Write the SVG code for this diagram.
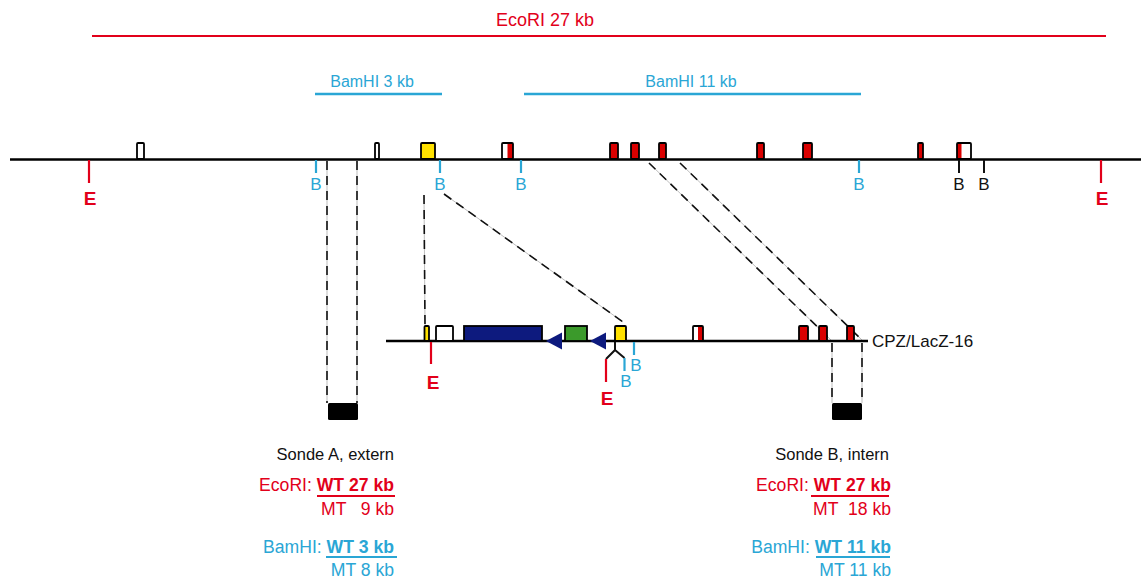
<svg xmlns="http://www.w3.org/2000/svg" width="1141" height="581" viewBox="0 0 1141 581">
  <style>
    text { font-family: "Liberation Sans", Arial, sans-serif; }
    .red { fill: #e2001a; }
    .cyan { fill: #2aa6d5; }
    .blk { fill: #111; }
    .site { font-size: 17px; text-anchor: middle; }
    .esite { font-size: 19px; font-weight: bold; text-anchor: middle; fill: #e2001a; }
    .lbl { font-size: 16.5px; }
    .band { font-size: 17.6px; }
    .backbone { stroke: #000; stroke-width: 2.5; fill: none; }
    .exon { stroke: #000; stroke-width: 1.8; }
    .tickR { stroke: #e2001a; stroke-width: 2.2; }
    .tickC { stroke: #2aa6d5; stroke-width: 2.2; }
    .tickK { stroke: #111; stroke-width: 2; }
    .guide { stroke: #bdbdbd; stroke-width: 1; fill: none; }
    .dash { stroke: #111; stroke-width: 1.6; stroke-dasharray: 9 6; fill: none; }
    .white { fill: #fff; }
    .redfill { fill: #d90000; }
    .yellow { fill: #ffe100; }
  </style>

  <!-- restriction fragment scale bars -->
  <g id="fragments">
    <line x1="92" y1="36" x2="1106" y2="36" stroke="#e2001a" stroke-width="2.2"/>
    <text class="red" x="545" y="26" font-size="18" text-anchor="middle">EcoRI 27 kb</text>
    <line x1="315" y1="94" x2="442" y2="94" stroke="#2aa6d5" stroke-width="2.5"/>
    <text class="cyan" x="372" y="87" font-size="16" text-anchor="middle">BamHI 3 kb</text>
    <line x1="524" y1="94" x2="861" y2="94" stroke="#2aa6d5" stroke-width="2.5"/>
    <text class="cyan" x="691" y="87" font-size="16" text-anchor="middle">BamHI 11 kb</text>
  </g>

  <!-- connectors: dashed homology / probe guides -->
  <g id="connectors">
    <!-- probe A -->
    <line class="guide" x1="327" y1="161" x2="327" y2="403"/>
    <line class="dash" x1="327" y1="161" x2="327" y2="403"/>
    <line class="guide" x1="357" y1="161" x2="357" y2="403"/>
    <line class="dash" x1="357" y1="161" x2="357" y2="403"/>
    <!-- 5' arm -->
    <line class="guide" x1="424" y1="195" x2="425" y2="325"/>
    <line class="dash" x1="424" y1="195" x2="425" y2="325"/>
    <line class="guide" x1="444" y1="194" x2="623" y2="322"/>
    <line class="dash" x1="444" y1="194" x2="623" y2="322"/>
    <!-- 3' arm -->
    <line class="guide" x1="649" y1="163" x2="832" y2="341"/>
    <line class="dash" x1="649" y1="163" x2="832" y2="341"/>
    <line class="guide" x1="680" y1="163" x2="863" y2="341"/>
    <line class="dash" x1="680" y1="163" x2="863" y2="341"/>
    <!-- probe B -->
    <line class="guide" x1="832" y1="343" x2="832" y2="403"/>
    <line class="dash" x1="832" y1="343" x2="832" y2="403"/>
    <line class="guide" x1="862" y1="343" x2="862" y2="403"/>
    <line class="dash" x1="862" y1="343" x2="862" y2="403"/>
  </g>

  <!-- wild-type locus -->
  <g id="wt-locus">
    <line class="backbone" x1="10" y1="159.5" x2="1141" y2="159.5"/>
    <rect class="exon white" x="137" y="143" width="7" height="16" rx="1"/>
    <rect class="exon white" x="375" y="143" width="4" height="16" rx="1"/>
    <rect class="exon yellow" x="421" y="143" width="14" height="16" rx="1"/>
    <rect class="white" x="502" y="143" width="11" height="16"/>
    <rect class="redfill" x="507.5" y="143" width="5.5" height="16"/>
    <rect class="exon" fill="none" x="502" y="143" width="11" height="16" rx="1"/>
    <rect class="exon redfill" x="610" y="143" width="8" height="16" rx="1"/>
    <rect class="exon redfill" x="631" y="143" width="8" height="16" rx="1"/>
    <rect class="exon redfill" x="659" y="143" width="7" height="16" rx="1"/>
    <rect class="exon redfill" x="757" y="143" width="7" height="16" rx="1"/>
    <rect class="exon redfill" x="803" y="143" width="9" height="16" rx="1"/>
    <rect class="exon redfill" x="918" y="143" width="5" height="16" rx="1"/>
    <rect class="white" x="957" y="143" width="14" height="16"/>
    <rect class="redfill" x="957" y="143" width="4.5" height="16"/>
    <rect class="exon" fill="none" x="957" y="143" width="14" height="16" rx="1"/>
  </g>

  <!-- wild-type restriction sites -->
  <g id="wt-sites">
    <line class="tickR" x1="89" y1="160" x2="89" y2="183"/>
    <text class="esite" x="90" y="205">E</text>
    <line class="tickR" x1="1101" y1="160" x2="1101" y2="183"/>
    <text class="esite" x="1102" y="205">E</text>
    <line class="tickC" x1="316" y1="160" x2="316" y2="173"/>
    <text class="site cyan" x="316" y="190">B</text>
    <line class="tickC" x1="440" y1="160" x2="440" y2="173"/>
    <text class="site cyan" x="440" y="190">B</text>
    <line class="tickC" x1="521" y1="160" x2="521" y2="173"/>
    <text class="site cyan" x="521" y="190">B</text>
    <line class="tickC" x1="859" y1="160" x2="859" y2="173"/>
    <text class="site cyan" x="859" y="190">B</text>
    <line class="tickK" x1="959" y1="160" x2="959" y2="173"/>
    <text class="site blk" x="959" y="190">B</text>
    <line class="tickK" x1="984" y1="160" x2="984" y2="173"/>
    <text class="site blk" x="984" y="190">B</text>
  </g>

  <!-- targeted allele CPZ/LacZ-16 -->
  <g id="cpz-allele">
    <line class="backbone" x1="386" y1="341" x2="868" y2="341"/>
    <rect class="exon yellow" x="424.5" y="326" width="4.5" height="15" rx="1"/>
    <rect class="exon white" x="436" y="326" width="17" height="15" rx="1"/>
    <rect class="exon" fill="#0d1a7e" x="464" y="326" width="78" height="15"/>
    <polygon points="546,341 562,332.5 562,349.5" fill="#0d1a7e"/>
    <rect class="exon" fill="#3b9a2b" x="565" y="326" width="22" height="15"/>
    <polygon points="590,341 606,332.5 606,349.5" fill="#0d1a7e"/>
    <rect class="exon yellow" x="615" y="326" width="11" height="15" rx="1"/>
    <rect class="white" x="693" y="326" width="10" height="15"/>
    <rect class="redfill" x="698" y="326" width="5" height="15"/>
    <rect class="exon" fill="none" x="693" y="326" width="10" height="15" rx="1"/>
    <rect class="exon redfill" x="799" y="326" width="9" height="15" rx="1"/>
    <rect class="exon redfill" x="819" y="326" width="8" height="15" rx="1"/>
    <rect class="exon redfill" x="847" y="326" width="7" height="15" rx="1"/>
    <text class="blk" x="872" y="347" font-size="17">CPZ/LacZ-16</text>
  </g>

  <!-- targeted allele restriction sites -->
  <g id="cpz-sites">
    <line class="tickR" x1="431" y1="342" x2="431" y2="364"/>
    <text class="esite" x="433" y="389">E</text>
    <path d="M615,342 V350 L606,359 M615,350 L624.5,358" stroke="#111" stroke-width="2" fill="none"/>
    <line class="tickR" x1="606" y1="359" x2="606" y2="382"/>
    <text class="esite" x="607" y="405">E</text>
    <line class="tickC" x1="624.5" y1="358" x2="624.5" y2="371"/>
    <text class="site cyan" x="626" y="387">B</text>
    <line class="tickC" x1="634" y1="342" x2="634" y2="355"/>
    <text class="site cyan" x="636" y="371">B</text>
  </g>

  <!-- probe A and expected bands -->
  <g id="probe-a">
    <rect x="328" y="403" width="30" height="17" rx="1.5" fill="#000"/>
    <text class="lbl blk" x="394" y="460" text-anchor="end">Sonde A, extern</text>
    <text class="band red" x="394" y="491" text-anchor="end">EcoRI: <tspan font-weight="bold">WT 27 kb</tspan></text>
    <line x1="317" y1="496" x2="395" y2="496" stroke="#e2001a" stroke-width="2"/>
    <text class="band red" x="321" y="515">MT</text>
    <text class="band red" x="394" y="515" text-anchor="end">9 kb</text>
    <text class="band cyan" x="394" y="553" text-anchor="end">BamHI: <tspan font-weight="bold">WT 3 kb</tspan></text>
    <line x1="326" y1="557" x2="397" y2="557" stroke="#2aa6d5" stroke-width="2"/>
    <text class="band cyan" x="394" y="576" text-anchor="end">MT 8 kb</text>
  </g>

  <!-- probe B and expected bands -->
  <g id="probe-b">
    <rect x="832" y="403" width="30" height="17" rx="1.5" fill="#000"/>
    <text class="lbl blk" x="889" y="460" text-anchor="end">Sonde B, intern</text>
    <text class="band red" x="891" y="491" text-anchor="end">EcoRI: <tspan font-weight="bold">WT 27 kb</tspan></text>
    <line x1="811" y1="496" x2="889" y2="496" stroke="#e2001a" stroke-width="2"/>
    <text class="band red" x="813" y="515">MT</text>
    <text class="band red" x="891" y="515" text-anchor="end">18 kb</text>
    <text class="band cyan" x="891" y="553" text-anchor="end">BamHI: <tspan font-weight="bold">WT 11 kb</tspan></text>
    <line x1="816" y1="557" x2="890" y2="557" stroke="#2aa6d5" stroke-width="2"/>
    <text class="band cyan" x="891" y="576" text-anchor="end">MT 11 kb</text>
  </g>
</svg>
